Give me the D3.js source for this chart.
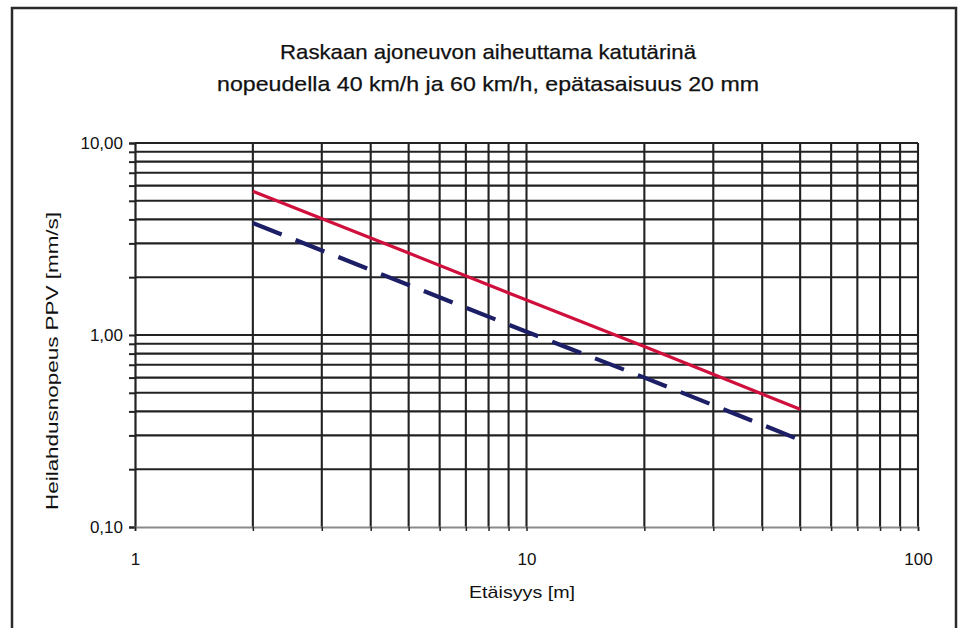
<!DOCTYPE html>
<html><head><meta charset="utf-8">
<script src="https://cdn.jsdelivr.net/npm/d3@7"></script>
<style>body{margin:0;background:#fff}svg{display:block}text{font-family:"Liberation Sans",Arial,sans-serif;fill:#111}</style>
</head><body>
<svg id="c" width="958" height="628"></svg>
<script>
const titleLines = ["Raskaan ajoneuvon aiheuttama katutärinä", "nopeudella 40 km/h ja 60 km/h, epätasaisuus 20 mm"];
const xAxisTitle = "Etäisyys [m]";
const yAxisTitle = "Heilahdusnopeus PPV [mm/s]";
const distances = [2, 5, 10, 20, 50];
const ppv60 = [5.6, 2.67, 1.52, 0.87, 0.41];
const ppv40 = [3.83, 1.82, 1.04, 0.6, 0.284];
const xTickValues = [1, 10, 100];
const yTickValues = [0.1, 1, 10];
const yTickLabels = ["0,10", "1,00", "10,00"];

const svg = d3.select("#c");
const L = 135, R = 918, T = 143, B = 527;
const x = d3.scaleLog().domain([1, 100]).range([L, R]);
const y = d3.scaleLog().domain([0.1, 10]).range([B, T]);

// frame
svg.append("rect").attr("x", 12).attr("y", 8).attr("width", 944).attr("height", 640)
  .attr("fill", "none").attr("stroke", "#2a2a2a").attr("stroke-width", 2.5);

// title
const titleWidths = [416, 542];
svg.append("g").selectAll("text").data(titleLines).join("text")
  .attr("x", 488).attr("y", (d, i) => 59 + i * 32)
  .attr("text-anchor", "middle").attr("font-size", 21)
  .attr("textLength", (d, i) => titleWidths[i]).attr("lengthAdjust", "spacingAndGlyphs")
  .attr("stroke", "#111").attr("stroke-width", 0.25).text(d => d);

// minor values
const xMinor = [];
[1, 10].forEach(dec => { for (let k = 2; k <= 10; k++) xMinor.push(k * dec); });
const yMinor = [];
[0.1, 1].forEach(dec => { for (let k = 2; k <= 10; k++) yMinor.push(+(k * dec).toFixed(2)); });

const grid = svg.append("g").attr("stroke", "#222").attr("stroke-width", 2.1);
grid.selectAll("line.h").data(yMinor).join("line").attr("class", "h")
  .attr("x1", L).attr("x2", R).attr("y1", d => y(d)).attr("y2", d => y(d));
grid.selectAll("line.v").data(xMinor).join("line").attr("class", "v")
  .attr("y1", T).attr("y2", B).attr("x1", d => x(d)).attr("x2", d => x(d));

// axes
const yAxis = d3.axisLeft(y).tickValues([0.1, ...yMinor]).tickSize(6)
  .tickFormat(d => { const i = yTickValues.findIndex(v => Math.abs(v - d) < 1e-9); return i >= 0 ? yTickLabels[i] : ""; });
const gy = svg.append("g").attr("transform", `translate(${L},0)`).call(yAxis);
gy.select(".domain").attr("stroke", "#222").attr("stroke-width", 2.2);
gy.selectAll(".tick line").attr("stroke", "#222").attr("stroke-width", 2);
gy.selectAll(".tick text").attr("font-size", 17).attr("font-family", "Liberation Sans, Arial, sans-serif").attr("fill", "#111").attr("x", -12);

const xAxis = d3.axisBottom(x).tickValues([1, ...xMinor]).tickSize(4).tickPadding(22)
  .tickFormat(d => xTickValues.includes(d) ? String(d) : "");
const gx = svg.append("g").attr("transform", `translate(0,${B})`).call(xAxis);
gx.select(".domain").attr("stroke", "#8a8a8a").attr("stroke-width", 2);
gx.selectAll(".tick line").attr("stroke", "#222").attr("stroke-width", 1.5);
gx.selectAll(".tick text").attr("font-size", 17).attr("font-family", "Liberation Sans, Arial, sans-serif").attr("fill", "#111");

// series
const line = d3.line().x(d => x(d[0])).y(d => y(d[1]));
svg.append("path").datum(distances.map((d, i) => [d, ppv40[i]])).attr("d", line)
  .attr("fill", "none").attr("stroke", "#1c1f66").attr("stroke-width", 4.2).attr("stroke-dasharray", "31,15");
svg.append("path").datum(distances.map((d, i) => [d, ppv60[i]])).attr("d", line)
  .attr("fill", "none").attr("stroke", "#d0103c").attr("stroke-width", 3.2);

// axis titles
svg.append("text").attr("x", 522).attr("y", 598).attr("text-anchor", "middle").attr("font-size", 17)
  .attr("textLength", 106).attr("lengthAdjust", "spacingAndGlyphs").text(xAxisTitle);
svg.append("text").attr("transform", "translate(58,361) rotate(-90)").attr("text-anchor", "middle").attr("font-size", 16)
  .attr("textLength", 298).attr("lengthAdjust", "spacingAndGlyphs").text(yAxisTitle);
</script>
</body></html>
